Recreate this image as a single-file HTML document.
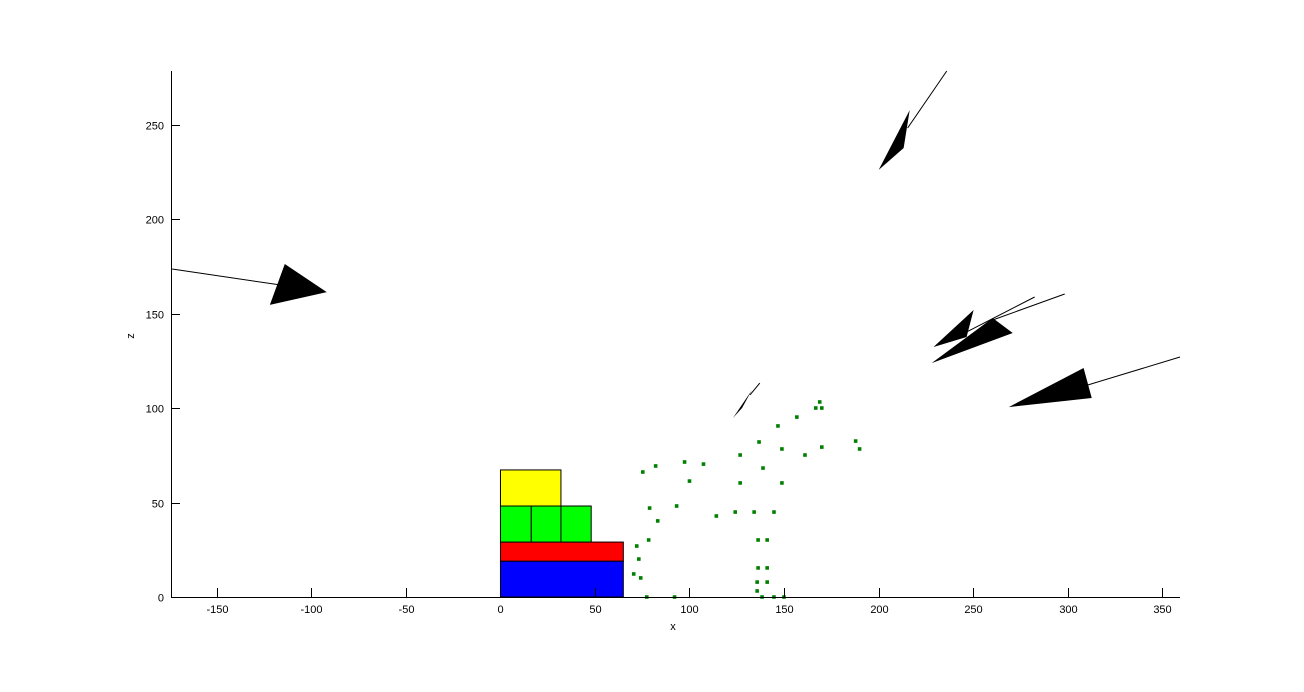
<!DOCTYPE html>
<html><head><meta charset="utf-8"><style>
body{margin:0;background:#fff;}
svg{display:block;font-family:"Liberation Sans",Arial,sans-serif;}
</style></head><body>
<svg id="chart" width="1304" height="692"></svg>
<script>
const xTicks=[-150,-100,-50,0,50,100,150,200,250,300,350];
const zTicks=[0,50,100,150,200,250];
const pointsX=[168.9,166.8,170,156.8,146.8,136.8,187.9,190,148.9,170,161.1,126.8,97.4,107.4,82.1,75.3,138.9,100,126.8,148.9,78.9,93.2,114.2,124.2,134.2,144.7,83.2,72.1,78.4,136.3,141.1,73.2,70.5,74.2,136.3,141.1,135.8,141.1,135.8,77.4,92.1,138.4,144.7,150];
const pointsZ=[103.3,100.1,100.1,95.3,90.6,82.1,82.6,78.4,78.4,79.4,75.2,75.2,71.5,70.4,69.4,66.2,68.3,61.4,60.4,60.4,47.1,48.2,42.9,45,45,45,40.3,27,30.2,30.2,30.2,20.1,12.2,10.1,15.4,15.4,7.9,7.9,3.2,0,0,0,0,0];
const boxX0=[0,0,0,16.3,32,0];
const boxX1=[65,65,16.3,32,48,32];
const boxZ0=[0,19,29.1,29.1,29.1,48.2];
const boxZ1=[19,29.1,48.2,48.2,48.2,67.3];
const boxColors=['#0000ff','#ff0000','#00ff00','#00ff00','#00ff00','#ffff00'];
const arrowLineX0=[-173.7,236.1,282.6,298.5,359.5,137.2];
const arrowLineZ0=[173.7,278.6,158.9,160.5,127.1,113.3];
const arrowLineX1=[-116.7,215.4,245.5,260.4,310.7,132];
const arrowLineZ1=[165.3,248.4,139.8,146.7,112.3,107];
const headAX=[-114.1,216.5,250.3,260.4,308.5,133];
const headAZ=[176.4,257.9,152,147.8,121.3,109.6];
const headBX=[-91.9,200.1,229.1,271,312.8,123];
const headBZ=[161.5,226.2,132.4,139.8,105.4,94.8];
const headCX=[-122,213.3,246.6,228.1,268.9,127.8];
const headCZ=[154.7,237.8,137.7,123.9,100.6,100.1];

const L=171,R=1180,T=71,B=597,xmin=-174.3,xmax=359.5,zmin=0,zmax=278.6;
const sx=v=>L+(v-xmin)/(xmax-xmin)*(R-L);
const sz=v=>B-(v-zmin)/(zmax-zmin)*(B-T);
const svg=document.getElementById('chart');
const NS='http://www.w3.org/2000/svg';
function mk(tag,attrs,name){const e=document.createElementNS(NS,tag);for(const k in attrs)e.setAttribute(k,attrs[k]);


svg.appendChild(e);return e;}
for(let i=0;i<boxX0.length;i++){
 mk('rect',{x:sx(boxX0[i]),y:sz(boxZ1[i]),width:sx(boxX1[i])-sx(boxX0[i]),height:sz(boxZ0[i])-sz(boxZ1[i]),fill:boxColors[i],stroke:'#000','stroke-width':1},'box-'+i);
}
for(let i=0;i<pointsX.length;i++){
 mk('rect',{x:sx(pointsX[i])-1.8,y:sz(pointsZ[i])-1.8,width:3.6,height:3.6,fill:'#008000'},'data-point');
}
for(let i=0;i<arrowLineX0.length;i++){
 mk('line',{x1:sx(arrowLineX0[i]),y1:sz(arrowLineZ0[i]),x2:sx(arrowLineX1[i]),y2:sz(arrowLineZ1[i]),stroke:'#000','stroke-width':1},'arrow-shaft');
 mk('polygon',{points:[sx(headAX[i]),sz(headAZ[i]),sx(headBX[i]),sz(headBZ[i]),sx(headCX[i]),sz(headCZ[i])].join(' '),fill:'#000'},'arrow-head');
}
mk('line',{x1:L,y1:B+0.5,x2:R,y2:B+0.5,stroke:'#000'},'x-axis');
mk('line',{x1:L+0.5,y1:T,x2:L+0.5,y2:B,stroke:'#000'},'z-axis');
xTicks.forEach(t=>{const x=Math.round(sx(t))+0.5;
 mk('line',{x1:x,y1:B,x2:x,y2:B-9,stroke:'#000'},'x-tick');
 const tx=mk('text',{x:x,y:B+16,'text-anchor':'middle','font-size':11},'x-tick-label');tx.textContent=t;});
zTicks.forEach(t=>{const y=Math.round(sz(t))+0.5;
 mk('line',{x1:L,y1:y,x2:L+9,y2:y,stroke:'#000'},'z-tick');
 const tx=mk('text',{x:L-7,y:y+4,'text-anchor':'end','font-size':11},'z-tick-label');tx.textContent=t;});
const xl=mk('text',{x:673,y:630,'text-anchor':'middle','font-size':11},'x-axis-title');xl.textContent='x';
const zl=mk('text',{x:134,y:336,'text-anchor':'middle','font-size':11,transform:'rotate(-90 134 336)'},'z-axis-title');zl.textContent='z';
</script>
</body></html>
